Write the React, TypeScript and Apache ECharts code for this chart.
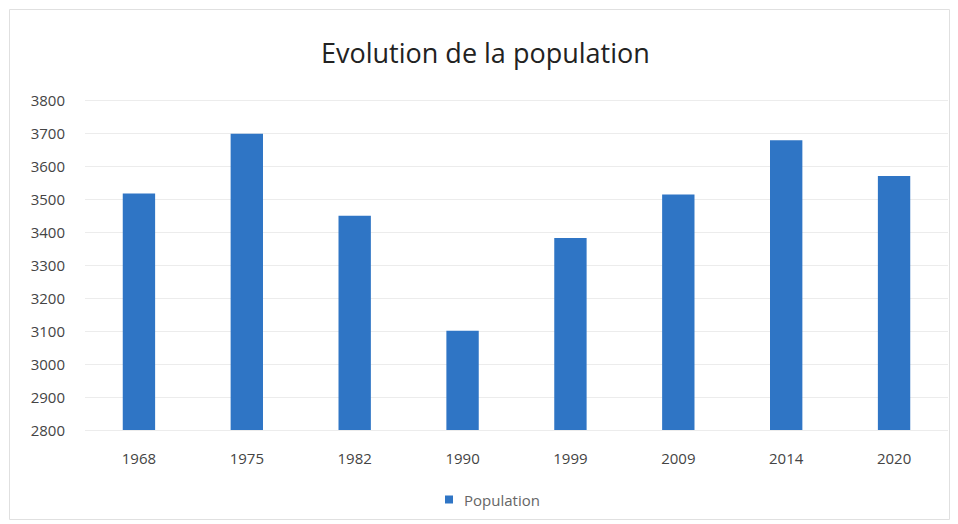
import React, { useEffect, useRef } from "react";
import * as echarts from "echarts";

const categories = ["1968", "1975", "1982", "1990", "1999", "2009", "2014", "2020"];
const population = [3517, 3698, 3449, 3101, 3382, 3514, 3678, 3570];
const seriesName = "Population";
const titleText = "Evolution de la population";

export default function App() {
  const ref = useRef<HTMLDivElement>(null);
  useEffect(() => {
    if (!ref.current) return;
    const chart = echarts.init(ref.current, null, { renderer: "svg" });
    chart.setOption({
      animation: false,
      backgroundColor: "#ffffff",
      title: {
        text: titleText,
        left: 316,
        top: 34,
        textStyle: { fontFamily: "Open Sans", fontSize: 27, fontWeight: "normal", color: "#222222" },
      },
      legend: {
        bottom: 12,
        left: 440,
        icon: "rect",
        itemWidth: 8,
        itemHeight: 8,
        itemGap: 6,
        data: [seriesName],
        textStyle: { fontFamily: "Open Sans", fontSize: 15, color: "#666666", padding: [0, 0, 0, 6] },
      },
      graphic: [
        {
          type: "rect",
          shape: { x: 9.5, y: 9.5, width: 940, height: 510 },
          style: { fill: "none", stroke: "#e0e0e0", lineWidth: 1 },
          silent: true,
        },
      ],
      grid: { left: 85, right: 10, top: 100, bottom: 94, containLabel: false },
      xAxis: {
        type: "category",
        data: categories,
        axisLine: { show: false },
        axisTick: { show: false },
        axisLabel: { margin: 20, fontFamily: "Open Sans", fontSize: 15, color: "#444444" },
      },
      yAxis: {
        type: "value",
        min: 2800,
        max: 3800,
        interval: 100,
        axisLine: { show: false },
        axisTick: { show: false },
        splitLine: { lineStyle: { color: "#ececec" } },
        axisLabel: {
          margin: 20,
          fontFamily: "Open Sans",
          fontSize: 15,
          color: "#444444",
          formatter: (v: number) => String(v),
        },
      },
      series: [
        {
          name: seriesName,
          type: "bar",
          data: population,
          barWidth: "30%",
          itemStyle: { color: "#2f75c5" },
        },
      ],
    });
    return () => chart.dispose();
  }, []);
  return <div ref={ref} style={{ position: "fixed", left: 0, top: 0, width: 958, height: 524 }} />;
}
